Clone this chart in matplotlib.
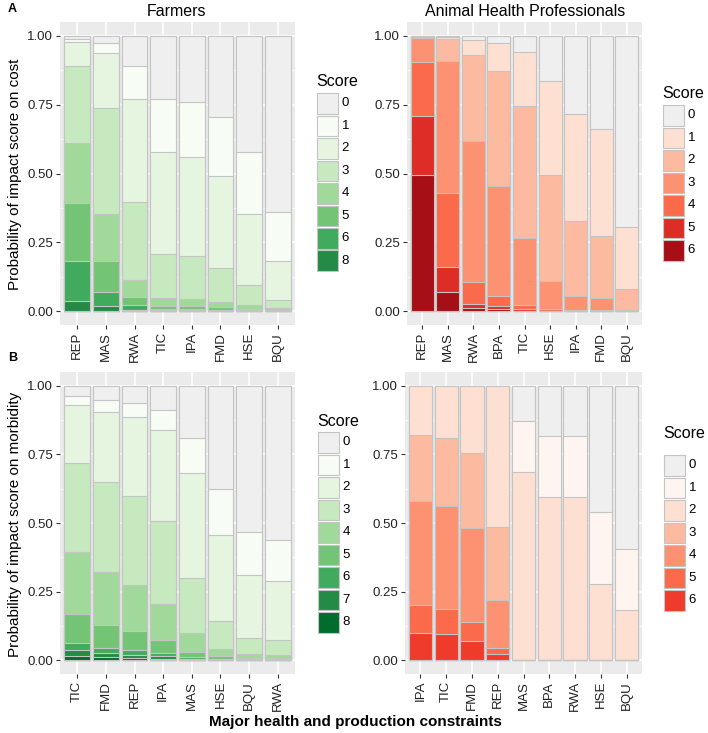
import matplotlib
matplotlib.use("Agg")
import matplotlib.pyplot as plt
from matplotlib.patches import Rectangle
import numpy as np

plt.rcParams["font.family"] = ["Liberation Sans", "DejaVu Sans"]

# -------------------------
# data: cumulative probability P(score >= k), one row per score
# -------------------------
farm_cost_cats = ["REP", "MAS", "RWA", "TIC", "IPA", "FMD", "HSE", "BQU"]
farm_cost_scores = ["0", "1", "2", "3", "4", "5", "6", "8"]
farm_cost_cum = [
    [1, 1, 1, 1, 1, 1, 1, 1],
    [0.990, 0.973, 0.892, 0.770, 0.761, 0.705, 0.577, 0.362],
    [0.976, 0.937, 0.770, 0.577, 0.560, 0.490, 0.352, 0.184],
    [0.891, 0.738, 0.398, 0.209, 0.200, 0.158, 0.096, 0.042],
    [0.611, 0.354, 0.115, 0.048, 0.046, 0.035, 0.021, 0.010],
    [0.393, 0.181, 0.051, 0.020, 0.018, 0.015, 0.008, 0.004],
    [0.184, 0.071, 0.022, 0.008, 0.008, 0.006, 0.004, 0.002],
    [0.036, 0.018, 0.006, 0.003, 0.003, 0.002, 0.001, 0.001],
]

ahp_cost_cats = ["REP", "MAS", "RWA", "BPA", "TIC", "HSE", "IPA", "FMD", "BQU"]
ahp_cost_scores = ["0", "1", "2", "3", "4", "5", "6"]
ahp_cost_cum = [
    [1, 1, 1, 1, 1, 1, 1, 1, 1],
    [0.999, 0.997, 0.985, 0.973, 0.940, 0.837, 0.715, 0.661, 0.305],
    [0.997, 0.988, 0.929, 0.871, 0.744, 0.496, 0.326, 0.272, 0.079],
    [0.993, 0.909, 0.617, 0.453, 0.265, 0.108, 0.054, 0.048, 0.006],
    [0.903, 0.429, 0.105, 0.057, 0.024, 0.008, 0.004, 0.004, 0.001],
    [0.707, 0.160, 0.027, 0.018, 0.008, 0.002, 0.001, 0.001, 0.0],
    [0.496, 0.069, 0.012, 0.008, 0.002, 0.001, 0.0, 0.0, 0.0],
]

farm_morb_cats = ["TIC", "FMD", "REP", "IPA", "MAS", "HSE", "BQU", "RWA"]
farm_morb_scores = ["0", "1", "2", "3", "4", "5", "6", "7", "8"]
farm_morb_cum = [
    [1, 1, 1, 1, 1, 1, 1, 1],
    [0.964, 0.948, 0.937, 0.911, 0.809, 0.623, 0.466, 0.439],
    [0.930, 0.906, 0.885, 0.838, 0.683, 0.457, 0.311, 0.288],
    [0.719, 0.651, 0.599, 0.507, 0.299, 0.144, 0.081, 0.073],
    [0.393, 0.320, 0.275, 0.206, 0.099, 0.042, 0.024, 0.021],
    [0.167, 0.127, 0.105, 0.075, 0.031, 0.015, 0.008, 0.007],
    [0.063, 0.045, 0.036, 0.027, 0.012, 0.006, 0.003, 0.003],
    [0.036, 0.027, 0.021, 0.015, 0.006, 0.003, 0.001, 0.001],
    [0.015, 0.012, 0.010, 0.006, 0.003, 0.001, 0.0, 0.0],
]

ahp_morb_cats = ["IPA", "TIC", "FMD", "REP", "MAS", "BPA", "RWA", "HSE", "BQU"]
ahp_morb_scores = ["0", "1", "2", "3", "4", "5", "6"]
ahp_morb_cum = [
    [1, 1, 1, 1, 1, 1, 1, 1, 1],
    [1, 1, 1, 1, 0.871, 0.816, 0.816, 0.540, 0.407],
    [1, 1, 1, 1, 0.686, 0.593, 0.593, 0.278, 0.184],
    [0.820, 0.810, 0.756, 0.486, 0, 0, 0, 0, 0],
    [0.580, 0.562, 0.481, 0.220, 0, 0, 0, 0, 0],
    [0.200, 0.185, 0.141, 0.045, 0, 0, 0, 0, 0],
    [0.099, 0.094, 0.069, 0.022, 0, 0, 0, 0, 0],
]

# colours
grey0 = "#efefef"
farm_cost_cols = [grey0, "#f7fcf5", "#e5f5e0", "#c7e9c0", "#a1d99b", "#74c476", "#41ab5d", "#238b45"]
farm_morb_cols = [grey0, "#f7fcf5", "#e5f5e0", "#c7e9c0", "#a1d99b", "#74c476", "#41ab5d", "#238b45", "#006d2c"]
ahp_cost_cols = [grey0, "#fee0d2", "#fcbba1", "#fc9272", "#fb6a4a", "#de2d26", "#a50f15"]
ahp_morb_cols = [grey0, "#fff5f0", "#fee0d2", "#fcbba1", "#fc9272", "#fb6a4a", "#ef3b2c"]
edge = "#c4c4c4"

W, H = 708, 733
fig = plt.figure(figsize=(W / 100, H / 100), dpi=100)


def px_axes(x0, y_top, x1, y_bot):
    return fig.add_axes([x0 / W, (H - y_bot) / H, (x1 - x0) / W, (y_bot - y_top) / H])


def draw_legend(scores, cols, x0, title_y, key_top, pitch=22.5, size=20.5):
    # ggplot-like legend, positions in pixels from top-left
    fig.text((x0 - 1) / W, 1 - title_y / H, "Score", ha="left", va="center", fontsize=11.5)
    for i, (lab, c) in enumerate(zip(scores, cols)):
        top = key_top + i * pitch
        fig.add_artist(Rectangle((x0 / W, 1 - (top + size) / H), size / W, size / H,
                                 transform=fig.transFigure, facecolor=c,
                                 edgecolor=edge, linewidth=0.8))
        fig.text((x0 + size + 4) / W, 1 - (top + size / 2) / H, lab,
                 ha="left", va="center", fontsize=9.5)


def panel(ax, cats, scores, cum, cols):
    x = np.arange(len(cats))
    ax.set_facecolor("#ebebeb")
    for yv in [0.125, 0.375, 0.625, 0.875]:
        ax.axhline(yv, color="white", lw=0.5, zorder=0)
    for yv in [0, 0.25, 0.5, 0.75, 1.0]:
        ax.axhline(yv, color="white", lw=1.1, zorder=0)
    for xv in x:
        ax.axvline(xv, color="white", lw=1.1, zorder=0)
    for k in range(len(scores)):
        ax.bar(x, cum[k], width=0.9, color=cols[k], edgecolor=edge,
               linewidth=0.8, zorder=2 + k)
    ax.set_xlim(-0.6, len(cats) - 0.4)
    ax.set_ylim(-0.05, 1.05)
    ax.set_yticks([0, 0.25, 0.5, 0.75, 1.0])
    ax.set_yticklabels(["0.00", "0.25", "0.50", "0.75", "1.00"])
    ax.set_xticks(x)
    ax.set_xticklabels(cats, rotation=90)
    ax.tick_params(axis="both", length=3, width=0.8, color="#333333",
                   labelsize=9.5, labelcolor="#222222", pad=2)
    for s in ax.spines.values():
        s.set_visible(False)


axA1 = px_axes(60, 22, 295, 325)
axA2 = px_axes(407, 22, 642, 325)
axB1 = px_axes(60, 372, 295, 674)
axB2 = px_axes(405, 372, 642, 674)

panel(axA1, farm_cost_cats, farm_cost_scores, farm_cost_cum, farm_cost_cols)
panel(axA2, ahp_cost_cats, ahp_cost_scores, ahp_cost_cum, ahp_cost_cols)
panel(axB1, farm_morb_cats, farm_morb_scores, farm_morb_cum, farm_morb_cols)
panel(axB2, ahp_morb_cats, ahp_morb_scores, ahp_morb_cum, ahp_morb_cols)

draw_legend(farm_cost_scores, farm_cost_cols, 317, 82, 93)
draw_legend(ahp_cost_scores, ahp_cost_cols, 663, 94, 105)
draw_legend(farm_morb_scores, farm_morb_cols, 318, 421, 432)
draw_legend(ahp_morb_scores, ahp_morb_cols, 664, 434, 455)

# titles and labels
fig.text(177 / W, 1 - 12 / H, "Farmers", ha="center", va="center", fontsize=11.5)
fig.text(525 / W, 1 - 12 / H, "Animal Health Professionals", ha="center", va="center", fontsize=11.5)
fig.text(8 / W, 1 - 9 / H, "A", ha="left", va="center", fontsize=9, fontweight="bold")
fig.text(8 / W, 1 - 358 / H, "B", ha="left", va="center", fontsize=9, fontweight="bold")
fig.text(15 / W, 1 - 174 / H, "Probability of impact score on cost", rotation=90,
         ha="center", va="center", fontsize=11)
fig.text(15 / W, 1 - 524 / H, "Probability of impact score on morbidity", rotation=90,
         ha="center", va="center", fontsize=11)
fig.text(355 / W, 1 - 722 / H, "Major health and production constraints",
         ha="center", va="center", fontsize=11, fontweight="bold")

fig.savefig("out.png", dpi=100, facecolor="white")
